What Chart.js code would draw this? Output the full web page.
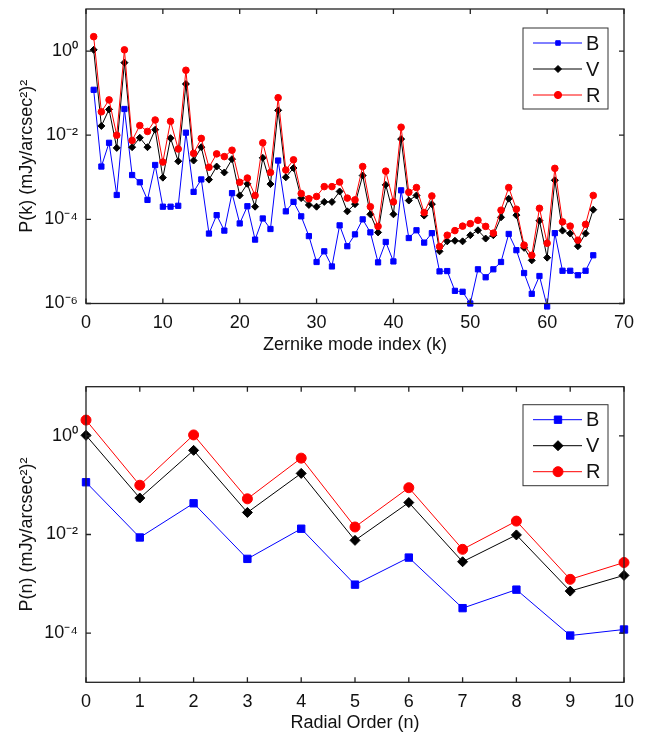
<!DOCTYPE html>
<html>
<head>
<meta charset="utf-8">
<script src="https://cdn.jsdelivr.net/npm/chart.js@4.4.1/dist/chart.umd.min.js"></script>
<style>
  html, body { margin: 0; padding: 0; background: #fff; }
  .wrap { position: relative; width: 647px; height: 368px; }
</style>
</head>
<body>
<div class="wrap"><canvas id="zernikeChart" width="647" height="368"></canvas></div>
<div class="wrap"><canvas id="radialChart" width="647" height="368"></canvas></div>
<script>
// ---- top panel: power per Zernike mode ----
const modeIndex = [1, 2, 3, 4, 5, 6, 7, 8, 9, 10, 11, 12, 13, 14, 15, 16, 17, 18, 19, 20, 21, 22,
  23, 24, 25, 26, 27, 28, 29, 30, 31, 32, 33, 34, 35, 36, 37, 38, 39, 40, 41, 42, 43, 44,
  45, 46, 47, 48, 49, 50, 51, 52, 53, 54, 55, 56, 57, 58, 59, 60, 61, 62, 63, 64, 65, 66];

const modeB = [1.2e-1, 1.8e-3, 6.6e-3, 3.8e-4, 4.2e-2, 1.13e-3, 7.6e-4, 2.9e-4, 1.96e-3, 2.0e-4,
  2.0e-4, 2.1e-4, 1.15e-2, 4.5e-4, 8.9e-4, 4.6e-5, 1.26e-4, 5.4e-5, 4.2e-4, 8.0e-5,
  2.05e-4, 3.3e-5, 1.05e-4, 5.9e-5, 2.5e-3, 1.55e-4, 2.6e-4, 1.18e-4, 4.0e-5, 9.7e-6,
  1.74e-5, 7.6e-6, 7.2e-5, 2.3e-5, 4.4e-5, 1.0e-4, 4.9e-5, 9.5e-6, 2.9e-5, 1.0e-5,
  4.9e-4, 3.6e-5, 5.5e-5, 2.8e-5, 4.7e-5, 5.8e-6, 5.9e-6, 2.0e-6, 1.9e-6, 1.0e-6,
  6.5e-6, 4.2e-6, 6.5e-6, 9.7e-6, 4.5e-5, 1.85e-5, 5.3e-6, 1.7e-6, 4.5e-6, 8.5e-7,
  4.7e-5, 6.0e-6, 6.0e-6, 4.7e-6, 6.0e-6, 1.4e-5];

const modeV = [1.07, 1.66e-2, 4.1e-2, 5.0e-3, 5.3e-1, 5.2e-3, 8.7e-3, 5.2e-3, 1.35e-2, 9.8e-4,
  8.5e-3, 2.4e-3, 1.65e-1, 2.5e-3, 5.2e-3, 8.8e-4, 1.8e-3, 1.3e-3, 2.7e-3, 3.7e-4,
  7.0e-4, 2.0e-4, 2.9e-3, 6.9e-4, 3.9e-2, 1.0e-3, 1.66e-3, 3.2e-4, 2.2e-4, 2.0e-4,
  2.6e-4, 2.6e-4, 4.6e-4, 1.55e-4, 2.3e-4, 1.1e-3, 1.32e-4, 4.9e-5, 6.6e-4, 1.32e-4,
  8.1e-3, 2.8e-4, 3.7e-4, 1.23e-4, 2.3e-4, 1.74e-5, 3.0e-5, 3.1e-5, 3.0e-5, 4.2e-5,
  5.5e-5, 3.5e-5, 4.2e-5, 1.12e-4, 3.1e-4, 1.26e-4, 2.1e-5, 1.06e-5, 9.3e-5, 1.23e-5,
  8.5e-4, 5.4e-5, 4.6e-5, 2.3e-5, 4.6e-5, 1.7e-4];

const modeR = [2.2, 3.6e-2, 6.9e-2, 1.0e-2, 1.07, 7.5e-3, 1.7e-2, 1.23e-2, 2.3e-2, 2.3e-3,
  2.14e-2, 4.7e-3, 3.5e-1, 3.7e-3, 8.4e-3, 1.73e-3, 3.6e-3, 3.1e-3, 4.4e-3, 7.6e-4,
  9.6e-4, 3.7e-4, 6.6e-3, 1.3e-3, 7.8e-2, 1.49e-3, 2.6e-3, 4.1e-4, 3.1e-4, 3.5e-4,
  6.0e-4, 6.0e-4, 7.7e-4, 3.2e-4, 2.9e-4, 1.8e-3, 2.0e-4, 6.8e-5, 1.4e-3, 2.6e-4,
  1.55e-2, 4.4e-4, 5.7e-4, 1.45e-4, 3.6e-4, 2.25e-5, 4.2e-5, 5.4e-5, 6.9e-5, 7.9e-5,
  9.5e-5, 6.8e-5, 4.7e-5, 1.65e-4, 5.7e-4, 1.74e-4, 2.44e-5, 1.4e-5, 1.83e-4, 2.7e-5,
  1.63e-3, 8.7e-5, 6.9e-5, 3.2e-5, 7.6e-5, 3.7e-4];

const modeXTicks = [0, 10, 20, 30, 40, 50, 60, 70];
const modeYTicks = [1e-6, 1e-4, 1e-2, 1];
const modeYLabels = ['10\u207B\u2076', '10\u207B\u2074', '10\u207B\u00B2', '10\u2070'];

// ---- bottom panel: power per radial order ----
const radialOrder = [0, 1, 2, 3, 4, 5, 6, 7, 8, 9, 10];
const radialB = [0.115, 0.0087, 0.043, 0.0032, 0.0131, 0.00096, 0.0034, 0.00032, 0.00076, 0.000089, 0.000118];
const radialV = [1.03, 0.055, 0.51, 0.028, 0.174, 0.0076, 0.0445, 0.0028, 0.0098, 0.00071, 0.00148];
const radialR = [2.1, 0.10, 1.05, 0.053, 0.355, 0.0142, 0.089, 0.0050, 0.0187, 0.00123, 0.0027];

const radialXTicks = [0, 1, 2, 3, 4, 5, 6, 7, 8, 9, 10];
const radialYTicks = [1e-4, 1e-2, 1];
const radialYLabels = ['10\u207B\u2074', '10\u207B\u00B2', '10\u2070'];

const bandNames = ['B', 'V', 'R'];
const bandColors = ['#0000ff', '#000000', '#ff0000'];
const bandStyles = ['rect', 'rectRot', 'circle'];

Chart.defaults.font.family = '"Liberation Sans", Arial, sans-serif';
Chart.defaults.color = '#111';

// box round the plot with inward ticks, the way MATLAB draws it
const framePlugin = {
  id: 'matlabFrame',
  afterDatasetsDraw(chart) {
    const { ctx, chartArea: a, scales: { x, y } } = chart;
    ctx.save();
    ctx.strokeStyle = '#222';
    ctx.lineWidth = 1.3;
    ctx.strokeRect(a.left, a.top, a.right - a.left, a.bottom - a.top);
    ctx.beginPath();
    x.ticks.forEach(t => {
      const px = x.getPixelForValue(t.value);
      ctx.moveTo(px, a.bottom); ctx.lineTo(px, a.bottom - 5);
      ctx.moveTo(px, a.top); ctx.lineTo(px, a.top + 5);
    });
    y.ticks.forEach(t => {
      const py = y.getPixelForValue(t.value);
      ctx.moveTo(a.left, py); ctx.lineTo(a.left + 5, py);
      ctx.moveTo(a.right, py); ctx.lineTo(a.right - 5, py);
    });
    ctx.stroke();
    ctx.restore();
  }
};

// legend box in the upper right corner of the plot
const boxLegendPlugin = {
  id: 'boxLegend',
  afterDraw(chart) {
    const { ctx, chartArea: a } = chart;
    const o = chart.options.plugins.boxLegend;
    const bw = 85, bh = 81;
    const bx = a.right - 16 - bw, by = a.top + o.offsetTop;
    ctx.save();
    ctx.fillStyle = '#fff';
    ctx.fillRect(bx, by, bw, bh);
    ctx.strokeStyle = '#333';
    ctx.lineWidth = 1;
    ctx.strokeRect(bx, by, bw, bh);
    chart.data.datasets.forEach((ds, i) => {
      const ly = by + 15 + i * 26;
      ctx.strokeStyle = ds.borderColor;
      ctx.lineWidth = 1;
      ctx.beginPath();
      ctx.moveTo(bx + 10, ly);
      ctx.lineTo(bx + 59, ly);
      ctx.stroke();
      ctx.fillStyle = ds.borderColor;
      Chart.helpers.drawPoint(ctx, {
        pointStyle: ds.pointStyle, radius: o.radii[i], rotation: 0, borderWidth: 1
      }, bx + 35, ly);
      ctx.fillStyle = '#111';
      ctx.font = '20px "Liberation Sans", Arial, sans-serif';
      ctx.textBaseline = 'middle';
      ctx.fillText(ds.label, bx + 63, ly + 1);
    });
    ctx.restore();
  }
};

function makeSeries(xs, ys) {
  return xs.map((x, i) => ({ x: x, y: ys[i] }));
}

function makeChart(id, opt) {
  const series = [opt.b, opt.v, opt.r];
  return new Chart(document.getElementById(id), {
    type: 'line',
    data: {
      datasets: series.map((vals, i) => ({
        label: bandNames[i],
        data: makeSeries(opt.xs, vals),
        borderColor: bandColors[i],
        backgroundColor: bandColors[i],
        pointBackgroundColor: bandColors[i],
        pointBorderColor: bandColors[i],
        pointStyle: bandStyles[i],
        pointRadius: opt.radii[i],
        pointBorderWidth: 1,
        borderWidth: 1,
        tension: 0,
        clip: false,
        order: 3 - i // R drawn last, on top
      }))
    },
    options: {
      responsive: false,
      animation: false,
      layout: { padding: { left: 0, right: 23, top: opt.top, bottom: 0 } },
      plugins: {
        legend: { display: false },
        tooltip: { enabled: false },
        boxLegend: { radii: opt.legendRadii, offsetTop: opt.legendTop }
      },
      scales: {
        x: {
          type: 'linear',
          min: 0,
          max: opt.xMax,
          afterBuildTicks: s => { s.ticks = opt.xTicks.map(v => ({ value: v })); },
          ticks: { padding: 9, font: { size: 18 }, color: '#111' },
          grid: { display: false, drawTicks: false },
          border: { display: false },
          title: { display: true, text: opt.xTitle, font: { size: 18 }, color: '#111',
                   padding: { top: 0, bottom: opt.xTitlePad } },
          afterFit: s => {
            s.height = opt.xHeight;
            s.paddingLeft = 0; s.paddingRight = 0;
          }
        },
        y: {
          type: 'logarithmic',
          min: opt.yMin,
          max: 10,
          afterBuildTicks: s => { s.ticks = opt.yTicks.map(v => ({ value: v })); },
          ticks: {
            padding: 8, font: { size: 18 }, color: '#111',
            callback: v => opt.yLabels[opt.yTicks.indexOf(v)]
          },
          grid: { display: false, drawTicks: false },
          border: { display: false },
          title: { display: true, text: opt.yTitle, font: { size: 18 }, color: '#111',
                   padding: { top: 16, bottom: 0 } },
          afterFit: s => {
            s.width = 86;
            s.paddingTop = 0; s.paddingBottom = 0;
          }
        }
      }
    },
    plugins: [framePlugin, boxLegendPlugin]
  });
}

makeChart('zernikeChart', {
  xs: modeIndex, b: modeB, v: modeV, r: modeR,
  radii: [3.7, 3.5, 3.3], legendRadii: [3.2, 3.5, 3.6], legendTop: 19,
  top: 9, xMax: 70, xTicks: modeXTicks,
  yMin: 1e-6, yTicks: modeYTicks, yLabels: modeYLabels,
  xTitle: 'Zernike mode index (k)', xTitlePad: 12, xHeight: 64.5,
  yTitle: 'P(k) (mJy/arcsec\u00B2)\u00B2'
});

makeChart('radialChart', {
  xs: radialOrder, b: radialB, v: radialV, r: radialR,
  radii: [5.2, 5, 5], legendRadii: [5.2, 5, 5], legendTop: 18,
  top: 18.7, xMax: 10, xTicks: radialXTicks,
  yMin: 1e-5, yTicks: radialYTicks, yLabels: radialYLabels,
  xTitle: 'Radial Order (n)', xTitlePad: 2, xHeight: 53.7,
  yTitle: 'P(n) (mJy/arcsec\u00B2)\u00B2'
});
</script>
</body>
</html>
